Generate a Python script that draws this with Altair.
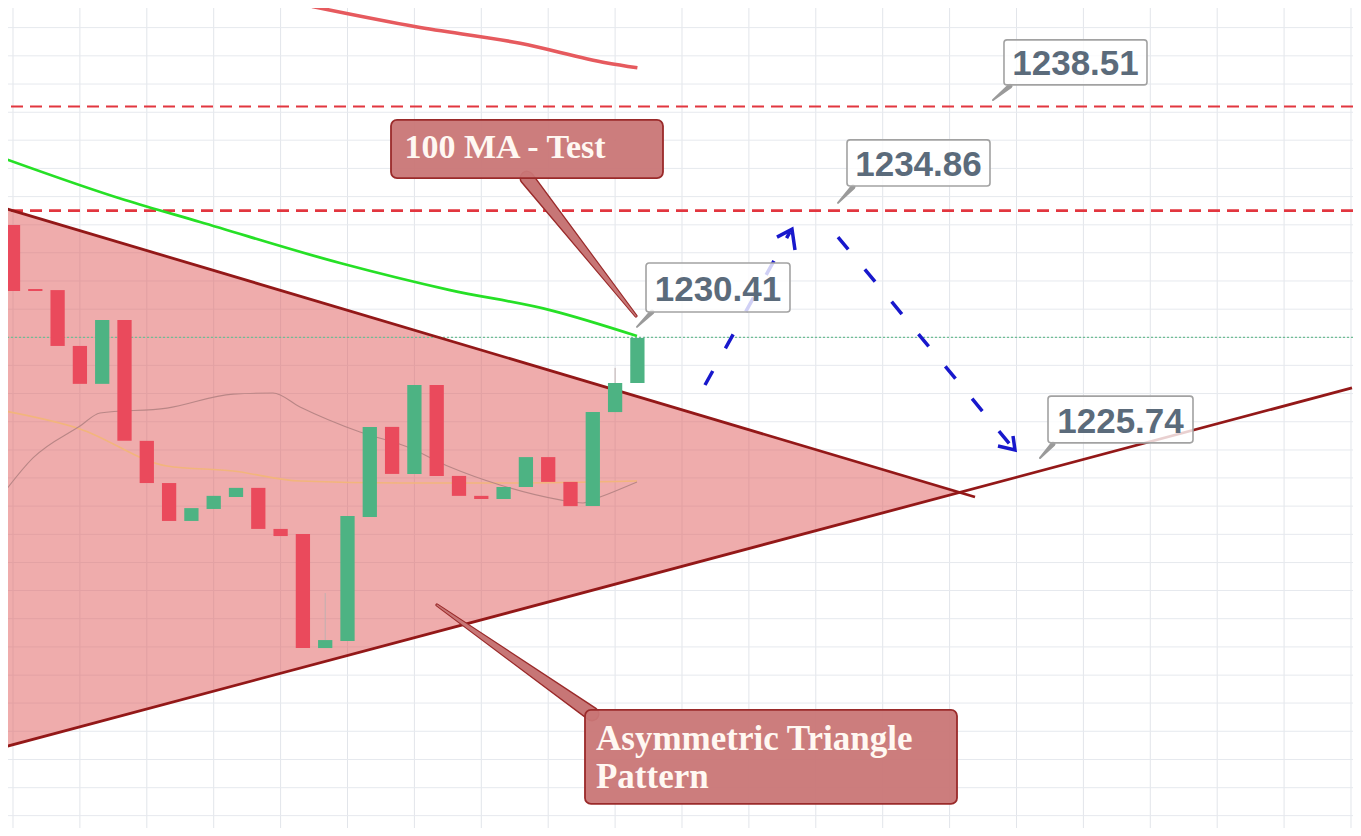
import altair as alt
import pandas as pd

# ---------------- data (x = candle index, y = price) ----------------
candle_i = list(range(29))
candle_open = [1234.35, 1232.11, 1232.07, 1230.11, 1228.78, 1231.02, 1226.78, 1225.30, 1223.97, 1224.39,
               1224.81, 1225.13, 1223.69, 1223.51, 1219.51, 1219.76, 1224.11, 1227.27, 1225.62, 1228.74,
               1225.55, 1224.85, 1224.74, 1225.16, 1226.21, 1225.34, 1224.49, 1227.79, 1228.81]
candle_close = [1232.04, 1232.04, 1230.11, 1228.78, 1231.02, 1226.78, 1225.30, 1223.97, 1224.42, 1224.85,
                1225.13, 1223.69, 1223.44, 1219.51, 1219.79, 1224.14, 1227.27, 1225.62, 1228.74, 1225.55,
                1224.85, 1224.74, 1225.16, 1226.21, 1225.34, 1224.49, 1227.79, 1228.81, 1230.39]
wick_i = [14, 27]
wick_low = [1219.79, 1228.81]
wick_high = [1221.44, 1229.34]

ma100_x = [-0.583, 5.022, 8.386, 14.664, 19.596, 24.081, 27.982]
ma100_y = [1236.74, 1235.23, 1234.46, 1233.02, 1232.07, 1231.37, 1230.46]

ma_orange_x = [-0.583, 3.004, 6.906, 9.865, 12.870, 17.354, 21.839, 27.982]
ma_orange_y = [1227.86, 1227.20, 1225.90, 1225.72, 1225.37, 1225.30, 1225.30, 1225.37]

ma_mauve_x = [-0.583, 0.897, 3.004, 3.901, 6.906, 9.865, 11.659, 12.870, 15.561, 17.668,
              19.596, 21.839, 24.529, 25.561, 26.323, 27.982]
ma_mauve_y = [1224.78, 1226.18, 1227.30, 1227.76, 1227.93, 1228.42, 1228.46, 1227.97, 1227.09, 1226.57,
              1225.86, 1225.23, 1224.71, 1224.60, 1224.81, 1225.34]

red_trend_x = [13.41, 18.07, 22.74, 26.64, 28.00]
red_trend_y = [1242.02, 1241.31, 1240.73, 1240.04, 1239.87]

# triangle: left edge x, upper/lower prices, apex
tri_x = [-0.583, 42.45]
tri_upper = [1234.99, 1224.97]
tri_lower = [1216.00, 1224.97]
resist_x = [-0.583, 43.14]
resist_y = [1234.99, 1224.81]
support_x = [-0.583, 60.045]
support_y = [1216.00, 1228.64]

level_dashed = [1238.51, 1234.86]
level_dashed_w = [2.0, 2.6]
level_dotted = [1230.41]

# projected path arrows
arrow_id = ["up", "up", "down", "down"]
arrow_x = [31.031, 34.843, 36.996, 44.843]
arrow_y = [1228.74, 1234.11, 1233.93, 1226.53]
head_id = ["up", "up", "up", "down", "down", "down"]
head_x = [34.260, 34.933, 35.067, 44.170, 44.933, 44.843]
head_y = [1233.93, 1234.21, 1233.48, 1226.60, 1226.46, 1226.95]

# price tags
tag_text = ["1238.51", "1234.86", "1230.41", "1225.74"]
tag_x0 = [44.439, 37.399, 28.386, 46.413]
tag_x1 = [50.852, 43.812, 34.843, 52.915]
tag_y0 = [1240.85, 1237.34, 1233.02, 1228.35]
tag_y1 = [1239.27, 1235.72, 1231.30, 1226.71]
tag_tx = [47.646, 40.605, 31.614, 49.664]
tag_ty = [1239.62, 1236.07, 1231.69, 1227.06]
tag_ptr_x0 = [44.709, 37.668, 28.655, 46.637]
tag_ptr_y0 = [1239.23, 1235.69, 1231.30, 1226.67]
tag_ptr_x1 = [43.946, 36.996, 27.982, 46.054]
tag_ptr_y1 = [1238.74, 1235.13, 1230.78, 1226.18]

# callouts
call_x0 = [16.951, 25.650]
call_x1 = [29.148, 42.332]
call_y0 = [1238.04, 1217.34]
call_y1 = [1236.00, 1214.04]
call_ptr_x0 = [23.049, 25.964]
call_ptr_y0 = [1236.00, 1217.20]
call_ptr_x1 = [27.937, 19.013]
call_ptr_y1 = [1231.16, 1221.02]
call_lines = ["100 MA - Test", "Asymmetric Triangle", "Pattern"]
call_line_x = [22.063, 26.143, 26.143]
call_line_y = [1236.71, 1215.93, 1214.60]
call_line_align = ["center", "left", "left"]

vgrid = [0, 3, 6, 9, 12, 15, 18, 21, 24, 27, 30, 33, 36, 39, 42, 45, 48, 51, 54, 57, 60]
hgrid = [1241.28, 1240.29, 1239.30, 1238.31, 1237.33, 1236.34, 1235.35, 1234.36, 1233.38, 1232.39,
         1231.40, 1230.41, 1229.43, 1228.44, 1227.45, 1226.46, 1225.48, 1224.49, 1223.50, 1222.51,
         1221.53, 1220.54, 1219.55, 1218.56, 1217.58, 1216.59, 1215.60, 1214.61, 1213.63]

# ---------------- tables ----------------
candles = pd.DataFrame({"i": candle_i, "open": candle_open, "close": candle_close})
candles["dir"] = ["up" if c >= o else "down" for o, c in zip(candle_open, candle_close)]
candles["x0"] = candles["i"] - 0.32
candles["x1"] = candles["i"] + 0.32
wicks = pd.DataFrame({"i": wick_i, "lo": wick_low, "hi": wick_high})

xs = alt.Scale(domain=[-0.2242, 60.090], nice=False, zero=False)
ys = alt.Scale(domain=[1213.196, 1241.968], nice=False, zero=False)


def X(f, **kw):
    return alt.X(f, scale=xs, axis=None, **kw)


def Y(f, **kw):
    return alt.Y(f, scale=ys, axis=None, **kw)


grid_v = alt.Chart(pd.DataFrame({"x": vgrid})).mark_rule(color="#e2e5ea", strokeWidth=1).encode(x=X("x:Q"))
grid_h = alt.Chart(pd.DataFrame({"y": hgrid})).mark_rule(color="#e6e9ee", strokeWidth=1).encode(y=Y("y:Q"))

tri = alt.Chart(pd.DataFrame({"x": tri_x, "u": tri_upper, "l": tri_lower})).mark_area(
    color="#e05a5a", opacity=0.5, clip=True).encode(x=X("x:Q"), y=Y("u:Q"), y2="l:Q")

dotted = alt.Chart(pd.DataFrame({"y": level_dotted})).mark_rule(
    color="#6fbf95", strokeDash=[2, 2], strokeWidth=1.2).encode(y=Y("y:Q"))
dashed = alt.Chart(pd.DataFrame({"y": level_dashed, "w": level_dashed_w})).mark_rule(
    color="#e2363f", strokeDash=[12, 7]).encode(y=Y("y:Q"), strokeWidth=alt.StrokeWidth("w:Q", scale=None, legend=None))

ma_o = alt.Chart(pd.DataFrame({"x": ma_orange_x, "y": ma_orange_y})).mark_line(
    color="#f2b57c", strokeWidth=1.6, clip=True, interpolate="monotone").encode(x=X("x:Q"), y=Y("y:Q"))
ma_m = alt.Chart(pd.DataFrame({"x": ma_mauve_x, "y": ma_mauve_y})).mark_line(
    color="#b98686", strokeWidth=1.1, clip=True, interpolate="monotone").encode(x=X("x:Q"), y=Y("y:Q"))

edges_df = pd.concat([
    pd.DataFrame({"id": "res", "x": resist_x, "y": resist_y}),
    pd.DataFrame({"id": "sup", "x": support_x, "y": support_y}),
])
edges = alt.Chart(edges_df).mark_line(color="#931818", strokeWidth=2.8, clip=True).encode(
    x=X("x:Q"), y=Y("y:Q"), detail="id:N")

wick = alt.Chart(wicks).mark_rule(color="#c0b0b0", strokeWidth=1).encode(x=X("i:Q"), y=Y("lo:Q"), y2="hi:Q")
bodies = alt.Chart(candles).mark_rect().encode(
    x=X("x0:Q"), x2="x1:Q", y=Y("open:Q"), y2="close:Q",
    color=alt.Color("dir:N", scale=alt.Scale(domain=["up", "down"], range=["#4db383", "#ea4a5c"]), legend=None))

ma100 = alt.Chart(pd.DataFrame({"x": ma100_x, "y": ma100_y})).mark_line(
    color="#26e026", strokeWidth=2.8, clip=True, interpolate="monotone").encode(x=X("x:Q"), y=Y("y:Q"))
red_tr = alt.Chart(pd.DataFrame({"x": red_trend_x, "y": red_trend_y})).mark_line(
    color="#e65a5e", strokeWidth=3.6, clip=True, interpolate="monotone").encode(x=X("x:Q"), y=Y("y:Q"))

shafts = alt.Chart(pd.DataFrame({"id": arrow_id, "x": arrow_x, "y": arrow_y})).mark_line(
    color="#1818cc", strokeDash=[16, 26], strokeWidth=3.5).encode(x=X("x:Q"), y=Y("y:Q"), detail="id:N")
heads_df = pd.DataFrame({"id": head_id, "x": head_x, "y": head_y, "o": [0, 1, 2, 0, 1, 2]})
heads = alt.Chart(heads_df).mark_line(color="#1818cc", strokeWidth=3.5).encode(
    x=X("x:Q"), y=Y("y:Q"), detail="id:N", order="o:Q")

# pointers as tapered trails
tp_rows = []
for k in range(4):
    tp_rows.append({"id": k, "o": 0, "x": tag_ptr_x0[k], "y": tag_ptr_y0[k], "w": 5})
    tp_rows.append({"id": k, "o": 1, "x": tag_ptr_x1[k], "y": tag_ptr_y1[k], "w": 2})
tag_ptr = alt.Chart(pd.DataFrame(tp_rows)).mark_trail(color="#9a9a9a").encode(
    x=X("x:Q"), y=Y("y:Q"), size=alt.Size("w:Q", scale=None, legend=None), detail="id:N", order="o:Q")

cp_rows = []
for k in range(2):
    cp_rows.append({"id": k, "o": 0, "x": call_ptr_x0[k], "y": call_ptr_y0[k], "w": 12, "wb": 15})
    cp_rows.append({"id": k, "o": 1, "x": call_ptr_x1[k], "y": call_ptr_y1[k], "w": 1.2, "wb": 3.2})
cp_df = pd.DataFrame(cp_rows)
call_ptr_b = alt.Chart(cp_df).mark_trail(color="#9a2a2a").encode(
    x=X("x:Q"), y=Y("y:Q"), size=alt.Size("wb:Q", scale=None, legend=None), detail="id:N", order="o:Q")
call_ptr = alt.Chart(cp_df).mark_trail(color="#c77676").encode(
    x=X("x:Q"), y=Y("y:Q"), size=alt.Size("w:Q", scale=None, legend=None), detail="id:N", order="o:Q")

tags = pd.DataFrame({"t": tag_text, "x0": tag_x0, "x1": tag_x1, "y0": tag_y0, "y1": tag_y1,
                     "tx": tag_tx, "ty": tag_ty})
tag_box = alt.Chart(tags).mark_rect(fill="white", fillOpacity=0.8, stroke="#a2a2a2", strokeWidth=1.6,
                                    cornerRadius=3).encode(x=X("x0:Q"), x2="x1:Q", y=Y("y0:Q"), y2="y1:Q")
tag_txt = alt.Chart(tags).mark_text(font="Liberation Sans", fontWeight="bold", fontSize=35, color="#5b6b7b",
                                    align="center", baseline="alphabetic").encode(
    x=X("tx:Q"), y=Y("ty:Q"), text="t:N")

calls = pd.DataFrame({"x0": call_x0, "x1": call_x1, "y0": call_y0, "y1": call_y1})
call_box = alt.Chart(calls).mark_rect(fill="#c97676", fillOpacity=0.95, stroke="#9a2a2a", strokeWidth=1.8,
                                      cornerRadius=6).encode(x=X("x0:Q"), x2="x1:Q", y=Y("y0:Q"), y2="y1:Q")
cl = pd.DataFrame({"t": call_lines, "x": call_line_x, "y": call_line_y, "a": call_line_align})
call_txt_c = alt.Chart(cl[cl["a"] == "center"]).mark_text(
    font="Liberation Serif", fontWeight="bold", fontSize=34, color="#fff8f2", align="center",
    baseline="alphabetic").encode(x=X("x:Q"), y=Y("y:Q"), text="t:N")
call_txt_l = alt.Chart(cl[cl["a"] == "left"]).mark_text(
    font="Liberation Serif", fontWeight="bold", fontSize=35, color="#fff8f2", align="left",
    baseline="alphabetic").encode(x=X("x:Q"), y=Y("y:Q"), text="t:N")

chart = alt.layer(
    grid_v, grid_h, tri, dotted, dashed, ma_o, ma_m, edges, wick, bodies, ma100, red_tr,
    shafts, heads, tag_ptr, call_ptr_b, call_ptr, tag_box, tag_txt, call_box, call_txt_c, call_txt_l
).properties(
    width=1345, height=820, padding=0, autosize=alt.AutoSizeParams(type="none"), background="white"
).configure_view(stroke=None)

chart.save("out.html", embed_options={"renderer": "svg", "actions": False})
